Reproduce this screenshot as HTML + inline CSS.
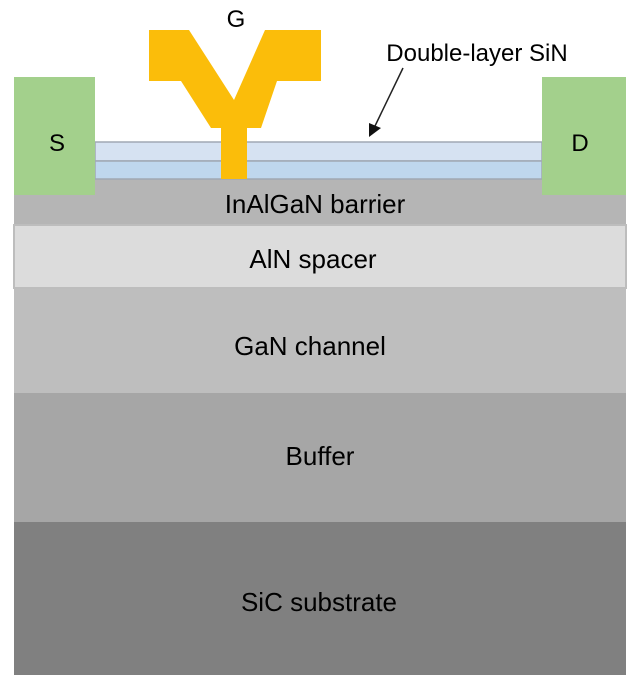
<!DOCTYPE html>
<html><head><meta charset="utf-8"><style>body{margin:0;background:#fff}</style></head><body>
<svg width="640" height="688" xmlns="http://www.w3.org/2000/svg" font-family="Liberation Sans, sans-serif" font-size="26" text-anchor="middle">
<rect x="14" y="179" width="612" height="46" fill="#b5b5b5"/>
<rect x="14" y="225" width="612" height="63" fill="#dcdcdc" stroke="#bdbdbd" stroke-width="2"/>
<rect x="14" y="289" width="612" height="104" fill="#bebebe"/>
<rect x="14" y="393" width="612" height="129" fill="#a6a6a6"/>
<rect x="14" y="522" width="612" height="153" fill="#808080"/>
<rect x="95" y="142" width="447" height="19" fill="#d6e2f2" stroke="#a0a8b4" stroke-width="1.5"/>
<rect x="95" y="161" width="447" height="18" fill="#bfd7ee" stroke="#a0a8b4" stroke-width="1.5"/>
<rect x="14" y="77" width="81" height="118" fill="#a3d08c"/>
<rect x="542" y="77" width="84" height="118" fill="#a3d08c"/>
<polygon points="149,30 189,30 234,100 265,30 321,30 321,81 277,81 261,128 247,128 247,179 221,179 221,128 211,128 181,81 149,81" fill="#fbbd0a"/>
<text x="236" y="27" font-size="24">G</text>
<text x="477" y="61" font-size="24">Double-layer SiN</text>
<line x1="403" y1="68" x2="375" y2="126" stroke="#222" stroke-width="1.5"/>
<polygon points="369,137 369,123 381,128" fill="#111"/>
<text x="57" y="151" font-size="24">S</text>
<text x="580" y="151" font-size="24">D</text>
<text x="315" y="213">InAlGaN barrier</text>
<text x="313" y="268">AlN spacer</text>
<text x="310" y="355">GaN channel</text>
<text x="320" y="465">Buffer</text>
<text x="319" y="611">SiC substrate</text>
</svg>
</body></html>
